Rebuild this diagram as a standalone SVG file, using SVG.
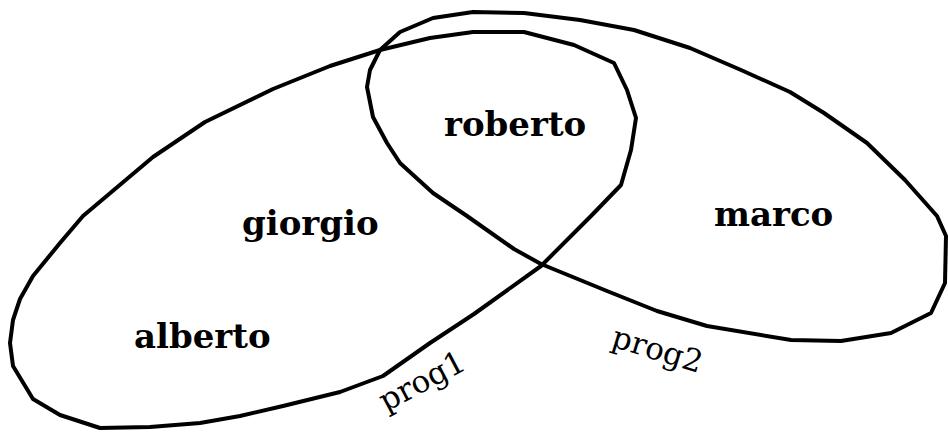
<svg xmlns="http://www.w3.org/2000/svg" width="948" height="432" viewBox="0 0 948 432">
<style>
.set{fill:none;stroke:#000;stroke-width:4;stroke-linejoin:round;stroke-linecap:round}
.name{font-family:"DejaVu Serif","Liberation Serif",serif;font-weight:bold;font-size:34px;fill:#000}
.lbl{font-family:"DejaVu Serif","Liberation Serif",serif;font-size:31px;fill:#000}
</style>
<rect width="948" height="432" fill="#fff"/>
<g id="connectors"></g>
<g id="prog1">
<polygon class="set" points="83,216 153,157 205,122 273,89 330,66 380,50 430,38 473,32 524,32 574,45 614,63 627,90 636,118 631,150 621,185 591,216 541,266 474,314 430,343 383,376 340,392 283,406 240,416 200,423 150,427 100,428 60,415 33,399 13,366 10,343 13,320 20,299 33,276 60,243"/>
<text class="lbl" transform="translate(386,412) rotate(-28)">prog1</text>
</g>
<g id="prog2">
<polygon class="set" points="467,216 433,193 400,163 387,143 373,117 367,87 370,70 380,50 400,32 433,18 473,12 524,13 580,20 634,30 690,48 741,70 790,92 824,113 867,143 905,180 937,216 946,236 945,283 931,313 891,333 841,341 791,340 707,326 657,311 607,291 541,264 514,249"/>
<text class="lbl" transform="translate(610,346) rotate(17)">prog2</text>
</g>
<g id="roberto"><text class="name" x="444" y="136">roberto</text></g>
<g id="giorgio"><text class="name" x="242" y="235">giorgio</text></g>
<g id="alberto"><text class="name" x="134" y="348">alberto</text></g>
<g id="marco"><text class="name" x="714" y="226">marco</text></g>
</svg>
